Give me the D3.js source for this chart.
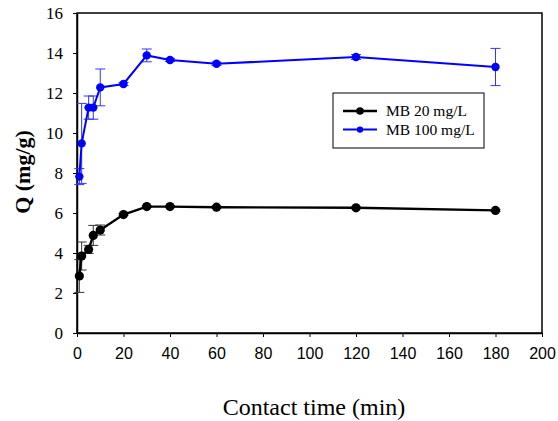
<!DOCTYPE html>
<html><head><meta charset="utf-8">
<script src="https://cdn.jsdelivr.net/npm/d3@7"></script>
<style>body{margin:0;background:#fff}svg{display:block}</style>
</head><body>
<svg id="c" width="558" height="421"></svg>
<script>
const times = [1, 2, 5, 7, 10, 20, 30, 40, 60, 120, 180];
const mb20 = [2.85, 3.85, 4.18, 4.88, 5.15, 5.92, 6.32, 6.32, 6.29, 6.26, 6.13];
const mb20Err = [0.82, 0.7, 0.2, 0.5, 0.25, 0.05, 0.05, 0.05, 0.05, 0.05, 0.05];
const mb100 = [7.82, 9.48, 11.27, 11.27, 12.28, 12.45, 13.88, 13.65, 13.46, 13.8, 13.3];
const mb100Err = [0.4, 2.0, 0.58, 0.58, 0.92, 0.08, 0.32, 0.08, 0.08, 0.12, 0.93];
const xTicks = [0, 20, 40, 60, 80, 100, 120, 140, 160, 180, 200];
const yTicks = [0, 2, 4, 6, 8, 10, 12, 14, 16];
const seriesNames = ["MB 20 mg/L", "MB 100 mg/L"];
const seriesColors = ["#000000", "#0000ff"];
const errColors = ["#333333", "#3333ff"];

const svg = d3.select("#c");
const L = 77, R = 542, T = 13, B = 333;
const x = d3.scaleLinear().domain([0, 200]).range([L, R]);
const y = d3.scaleLinear().domain([0, 16]).range([B, T]);

// frame
svg.append("rect").attr("x", L).attr("y", T).attr("width", R - L).attr("height", B - T)
  .attr("fill", "none").attr("stroke", "#000").attr("stroke-width", 1.5);

// axes
const xa = svg.append("g").attr("transform", `translate(0,${B})`)
  .call(d3.axisBottom(x).tickValues(xTicks).tickSize(4).tickSizeOuter(0).tickPadding(11));
xa.select(".domain").attr("stroke-width", 1.5);
xa.selectAll("text").attr("font-family", "Liberation Sans, Arial, sans-serif").attr("font-size", 16).attr("fill", "#000");

const ya = svg.append("g").attr("transform", `translate(${L},0)`)
  .call(d3.axisLeft(y).tickValues(yTicks).tickSize(4).tickSizeOuter(0).tickPadding(10));
ya.select(".domain").attr("stroke-width", 1.5);
ya.selectAll("text").attr("font-family", "Liberation Serif, Times New Roman, serif").attr("font-size", 17).attr("fill", "#000");

// titles
svg.append("text").attr("x", 314).attr("y", 415).attr("text-anchor", "middle")
  .attr("font-family", "Liberation Serif, Times New Roman, serif").attr("font-size", 24).text("Contact time (min)");
svg.append("text").attr("transform", "translate(30,172) rotate(-90)").attr("text-anchor", "middle")
  .attr("font-family", "Liberation Serif, Times New Roman, serif").attr("font-size", 22).attr("font-weight", "bold").text("Q (mg/g)");

const data = [mb20, mb100];
const errs = [mb20Err, mb100Err];
const radii = [4.6, 4.2];
const widths = [2.4, 2];

data.forEach((vals, si) => {
  const g = svg.append("g");
  const pts = times.map((t, i) => ({t, v: vals[i], e: errs[si][i]}));
  // error bars
  const eb = g.selectAll(".eb").data(pts).enter().append("g");
  eb.append("line").attr("x1", d => x(d.t)).attr("x2", d => x(d.t))
    .attr("y1", d => y(d.v - d.e)).attr("y2", d => y(d.v + d.e))
    .attr("stroke", errColors[si]).attr("stroke-width", 1);
  [-1, 1].forEach(s => {
    eb.append("line").attr("x1", d => x(d.t) - 5).attr("x2", d => x(d.t) + 5)
      .attr("y1", d => y(d.v + s * d.e)).attr("y2", d => y(d.v + s * d.e))
      .attr("stroke", errColors[si]).attr("stroke-width", 1);
  });
  g.append("path").datum(pts)
    .attr("d", d3.line().x(d => x(d.t)).y(d => y(d.v)))
    .attr("fill", "none").attr("stroke", seriesColors[si]).attr("stroke-width", widths[si]);
  g.selectAll("circle").data(pts).enter().append("circle")
    .attr("cx", d => x(d.t)).attr("cy", d => y(d.v)).attr("r", radii[si]).attr("fill", seriesColors[si]);
});

// legend
const lg = svg.append("g");
lg.append("rect").attr("x", 333).attr("y", 93).attr("width", 151).attr("height", 55)
  .attr("fill", "#fff").attr("stroke", "#000").attr("stroke-width", 1);
seriesNames.forEach((n, i) => {
  const yy = 111 + i * 18.6;
  lg.append("line").attr("x1", 343).attr("x2", 377).attr("y1", yy).attr("y2", yy)
    .attr("stroke", seriesColors[i]).attr("stroke-width", widths[i]);
  lg.append("circle").attr("cx", 360).attr("cy", yy).attr("r", i === 0 ? 3.8 : 3.2).attr("fill", seriesColors[i]);
  lg.append("text").attr("x", 386).attr("y", yy + 5).attr("font-family", "Liberation Serif, Times New Roman, serif")
    .attr("font-size", 15.5).text(n);
});
</script>
</body></html>
